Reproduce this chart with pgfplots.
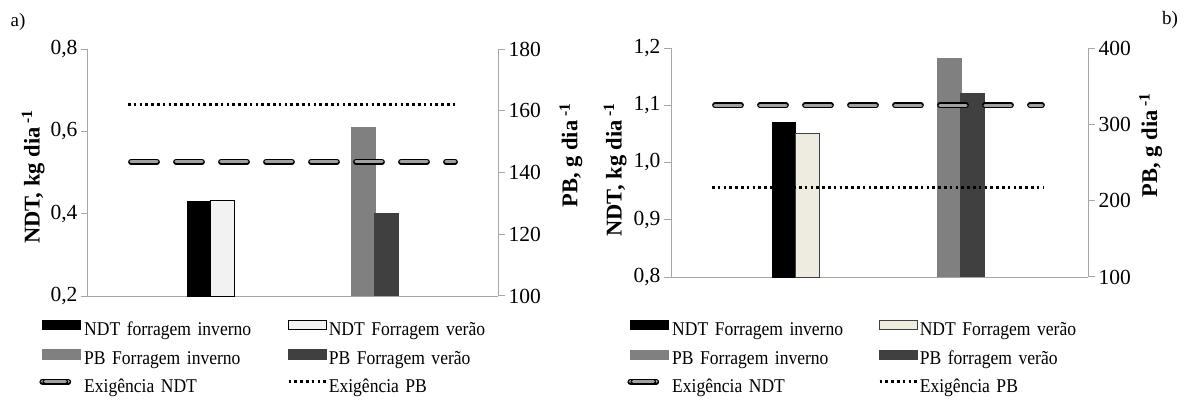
\documentclass[border=0pt]{standalone}
\usepackage{pgfplots}
\pgfplotsset{compat=1.18}
\usepackage{fontspec}
\setmainfont{Liberation Serif}
\newfontfamily\legfont[FakeStretch=0.9]{Liberation Serif}

\definecolor{ndtverA}{HTML}{F2F2F2}
\definecolor{ndtverB}{HTML}{EEECE1}
\definecolor{pbinv}{HTML}{808080}
\definecolor{pbver}{HTML}{404040}
\definecolor{axgray}{HTML}{A6A6A6}
\definecolor{reqgray}{HTML}{A0A0A0}

\newcommand{\legy}{6pt}

\pgfplotsset{
  panel/.style={
    scale only axis, anchor=south west, clip=true,
    xmin=0, xtick=\empty,
    axis line style={-, draw=axgray, line width=1pt},
    tick align=outside, major tick length=7pt,
    tick style={draw=axgray, line width=1pt},
    ticklabel style={font=\fontsize{21.5}{21.5}\selectfont},
    label style={font=\fontsize{22.5}{22.5}\selectfont\bfseries},
  },
  leftside/.style={panel, axis y line*=left, axis x line*=bottom,
    yticklabel={\pgfmathprintnumber[fixed,fixed zerofill,precision=1,use comma,assume math mode=true]{\tick}}},
  rightside/.style={panel, axis y line*=right, axis x line=none,
    yticklabel={\pgfmathprintnumber[fixed,precision=0,assume math mode=true]{\tick}}},
  overlay/.style={scale only axis, anchor=south west, clip=true, xmin=0, hide axis},
  bar/.style={ybar, bar width=23.5, bar shift=0pt, line width=0.8pt},
  reqndt/.style={draw=black, line width=1.2pt, double=reqgray, double distance=3.4pt,
    line cap=round, dash pattern=on 26pt off 19pt},
  reqpb/.style={draw=black, line width=2.6pt, dash pattern=on 2.6pt off 3.2pt},
  barleg/.style={legend image code/.code={
    \draw[##1] (0pt,\legy-4.6pt) rectangle (38pt,\legy+4.6pt);}},
  reqndtleg/.style={reqndt, legend image code/.code={
    \path (0pt,\legy) -- (38pt,\legy);
    \draw[##1, solid] (3pt,\legy) -- (23pt,\legy);}},
  reqpbleg/.style={reqpb, legend image code/.code={
    \path (0pt,\legy) -- (38pt,\legy);
    \draw[##1] (0pt,\legy) -- (33pt,\legy);}},
  twocol/.style={legend columns=2, legend cell align=left,
    legend style={draw=none, fill=none, inner sep=0pt, anchor=north west,
      row sep=10pt, column sep=0pt,
      font=\fontsize{19.5}{19.5}\legfont,
      nodes={text width=#1, inner xsep=1pt, inner ysep=0pt,
        text height=13pt, text depth=4pt, align=left}}},
}

\begin{document}
\begin{tikzpicture}
\useasboundingbox (0,0) rectangle (1195pt,410pt);

% ---------------- panel a) ----------------
\begin{axis}[leftside, at={(88pt,114pt)}, width=410pt, height=247pt,
  xmax=410, ymin=0.2, ymax=0.8, ytick={0.2,0.4,0.6,0.8},
  ylabel={NDT, kg dia\,\textsuperscript{-1}},
  ylabel style={at={(axis description cs:-0.134,0.482)}, anchor=center, rotate=0},
  twocol=202pt, legend style={at={(axis description cs:-0.119,-0.097)}}]
  \addlegendimage{barleg, fill=black, draw=black}
  \addlegendentry{NDT forragem inverno}
  \addlegendimage{barleg, fill=ndtverA, draw=black}
  \addlegendentry{NDT Forragem verão}
  \addlegendimage{barleg, fill=pbinv, draw=pbinv}
  \addlegendentry{PB Forragem inverno}
  \addlegendimage{barleg, fill=pbver, draw=pbver}
  \addlegendentry{PB Forragem verão}
  \addlegendimage{reqndtleg}
  \addlegendentry{Exigência NDT}
  \addlegendimage{reqpbleg}
  \addlegendentry{Exigência PB}
  \addplot[bar, fill=black, draw=black, forget plot] coordinates {(111,0.431)};
  \addplot[bar, fill=ndtverA, draw=black, forget plot] coordinates {(134.5,0.433)};
\end{axis}
\begin{axis}[rightside, at={(88pt,114pt)}, width=410pt, height=247pt,
  xmax=410, ymin=100, ymax=180, ytick={100,120,140,160,180},
  ylabel={PB, g dia\,\textsuperscript{-1}},
  ylabel style={at={(axis description cs:1.178,0.569)}, anchor=center, rotate=0}]
  \addplot[bar, fill=pbinv, draw=pbinv] coordinates {(275.5,154.6)};
  \addplot[bar, fill=pbver, draw=pbver] coordinates {(298.5,126.7)};
  \addplot[reqpb] coordinates {(40,162) (370,162)};
\end{axis}
\begin{axis}[overlay, at={(88pt,114pt)}, width=410pt, height=247pt,
  xmax=410, ymin=0.2, ymax=0.8]
  \addplot[reqndt] coordinates {(43,0.526) (367,0.526)};
\end{axis}
\node[font=\fontsize{19}{19}\selectfont] at (18pt,388pt) {a)};

% ---------------- panel b) ----------------
\begin{axis}[leftside, at={(671pt,133pt)}, width=417pt, height=229pt,
  xmax=417, ymin=0.8, ymax=1.2, ytick={0.8,0.9,1.0,1.1,1.2},
  ylabel={NDT, kg dia\,\textsuperscript{-1}},
  ylabel style={at={(axis description cs:-0.134,0.469)}, anchor=center, rotate=0},
  twocol=205pt, legend style={at={(axis description cs:-0.105,-0.188)}}]
  \addlegendimage{barleg, fill=black, draw=black}
  \addlegendentry{NDT Forragem inverno}
  \addlegendimage{barleg, fill=ndtverB, draw=pbver}
  \addlegendentry{NDT Forragem verão}
  \addlegendimage{barleg, fill=pbinv, draw=pbinv}
  \addlegendentry{PB Forragem inverno}
  \addlegendimage{barleg, fill=pbver, draw=pbver}
  \addlegendentry{PB forragem verão}
  \addlegendimage{reqndtleg}
  \addlegendentry{Exigência NDT}
  \addlegendimage{reqpbleg}
  \addlegendentry{Exigência PB}
  \addplot[bar, fill=black, draw=black, forget plot] coordinates {(113,1.07)};
  \addplot[bar, fill=ndtverB, draw=pbver, forget plot] coordinates {(136.5,1.05)};
\end{axis}
\begin{axis}[rightside, at={(671pt,133pt)}, width=417pt, height=229pt,
  xmax=417, ymin=100, ymax=400, ytick={100,200,300,400},
  ylabel={PB, g dia\,\textsuperscript{-1}},
  ylabel style={at={(axis description cs:1.15,0.576)}, anchor=center, rotate=0}]
  \addplot[bar, fill=pbinv, draw=pbinv] coordinates {(278.5,386)};
  \addplot[bar, fill=pbver, draw=pbver] coordinates {(301.5,340)};
  \addplot[reqpb] coordinates {(41,217) (372,217)};
\end{axis}
\begin{axis}[overlay, at={(671pt,133pt)}, width=417pt, height=229pt,
  xmax=417, ymin=0.8, ymax=1.2]
  \addplot[reqndt] coordinates {(44,1.10) (371,1.10)};
\end{axis}
\node[font=\fontsize{19}{19}\selectfont] at (1170pt,390pt) {b)};
\end{tikzpicture}
\end{document}
